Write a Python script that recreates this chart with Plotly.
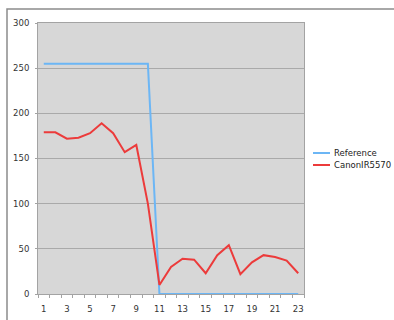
import plotly.graph_objects as go

# Sample index (1..23) and the two measured series
samples = list(range(1, 24))
reference = [255] * 10 + [0] * 13
canon_ir5570 = [179, 179, 172, 173, 178, 189, 178, 157, 165, 100,
                10, 30, 39, 38, 23, 43, 54, 22, 35, 43, 41, 37, 23]
x_tick_labels = [str(v) for v in range(1, 24, 2)]
y_tick_values = [0, 50, 100, 150, 200, 250, 300]

W, H = 394, 320
ML, MR, MT, MB = 38, 90, 23, 26
PW, PH = W - ML - MR, H - MT - MB

def px(x):
    return (x - ML) / PW

def py(y):
    return (H - MB - y) / PH

FONT = "DejaVu Sans"
BLUE = "#6cb6f5"
RED = "#ec3b3b"

fig = go.Figure()
fig.add_trace(go.Scatter(x=samples, y=reference, mode="lines", name="Reference",
                         line=dict(color=BLUE, width=2), showlegend=False))
fig.add_trace(go.Scatter(x=samples, y=canon_ir5570, mode="lines", name="CanonIR5570",
                         line=dict(color=RED, width=2), showlegend=False))

fig.update_layout(
    width=W, height=H,
    autosize=False,
    margin=dict(l=ML, r=MR, t=MT, b=MB, pad=0, autoexpand=False),
    paper_bgcolor="white",
    plot_bgcolor="#d7d7d7",
    font=dict(family=FONT, size=8.5, color="#333333"),
    xaxis=dict(
        range=[0.5, 23.5],
        automargin=False,
        tickmode="array",
        tickvals=list(range(1, 24, 2)),
        ticktext=x_tick_labels,
        ticks="",
        ticklabelstandoff=7,
        showgrid=False,
        zeroline=False,
        showline=True, linecolor="#a3a3a3", linewidth=1, mirror=True,
        minor=dict(tickmode="array", tickvals=[i + 0.5 for i in range(0, 24)],
                   ticks="outside", ticklen=3, tickcolor="#a3a3a3", showgrid=False),
        fixedrange=True,
    ),
    yaxis=dict(
        range=[0, 300],
        automargin=False,
        tickmode="array",
        tickvals=y_tick_values,
        ticks="outside", ticklen=2, tickcolor="#a3a3a3",
        ticklabelstandoff=4,
        showgrid=True, gridcolor="#a9a9a9", gridwidth=1,
        zeroline=False,
        showline=True, linecolor="#a3a3a3", linewidth=1, mirror=True,
        fixedrange=True,
    ),
    shapes=[
        # outer chart frame (top and left edges visible)
        dict(type="rect", xref="paper", yref="paper",
             x0=px(7), x1=px(W + 10), y0=py(H + 10), y1=py(9),
             line=dict(color="#8c8c8c", width=1.5), layer="below"),
        # legend keys
        dict(type="line", xref="paper", yref="paper",
             x0=px(313), x1=px(330), y0=py(153), y1=py(153),
             line=dict(color=BLUE, width=2)),
        dict(type="line", xref="paper", yref="paper",
             x0=px(313), x1=px(330), y0=py(165), y1=py(165),
             line=dict(color=RED, width=2)),
    ],
    annotations=[
        dict(text="Reference", xref="paper", yref="paper", x=px(332), y=py(153),
             xanchor="left", yanchor="middle", showarrow=False,
             font=dict(family=FONT, size=8.5, color="#222222")),
        dict(text="CanonIR5570", xref="paper", yref="paper", x=px(332), y=py(165),
             xanchor="left", yanchor="middle", showarrow=False,
             font=dict(family=FONT, size=8.5, color="#222222")),
    ],
)

fig.write_html("out.html")
